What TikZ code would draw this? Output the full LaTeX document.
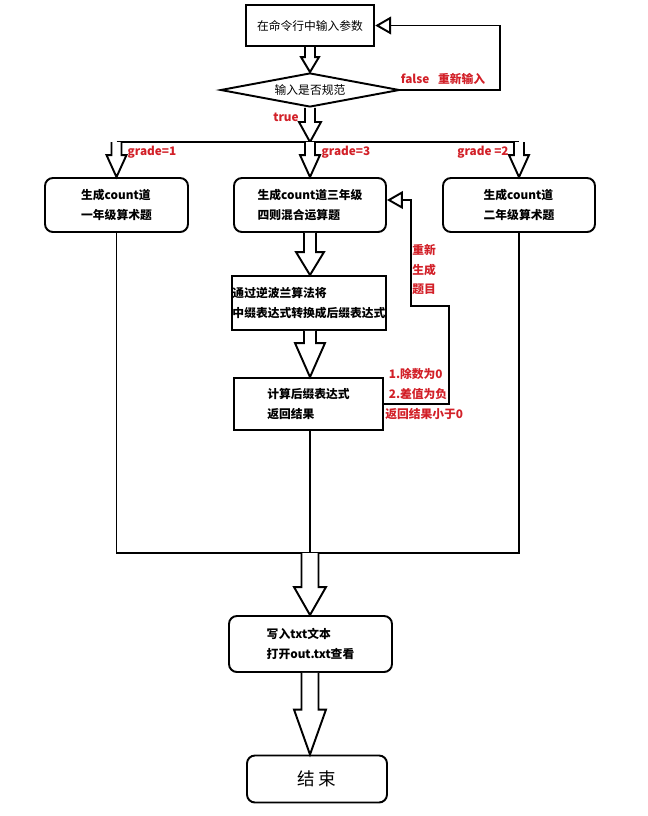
\documentclass[tikz,border=0pt]{standalone}
\usepackage{fontspec}
\setmainfont{Noto Sans CJK SC}
\usepackage{tikz}
\usetikzlibrary{shapes.geometric, positioning, calc, arrows.meta}
\definecolor{lblred}{RGB}{210,32,40}
\tikzset{plainbox/.style = {draw=black, line width=1.1pt, inner sep=0pt, align=left, font=\fontsize{6.7}{11.5}\selectfont}}
\tikzset{boldbox/.style = {plainbox, font=\fontsize{6.7}{11.5}\selectfont\bfseries}}
\tikzset{roundbox/.style = {boldbox, rounded corners=4.5pt}}
\tikzset{decision/.style = {plainbox, diamond, aspect=5}}
\tikzset{fat/.style = {draw=black, line width=1.1pt, fill=white, line join=miter}}
\tikzset{back/.style = {line width=1.1pt, -{Triangle[open,length=9pt,width=10pt]}}}
\tikzset{lbl/.style = {text=lblred, inner sep=0pt, align=left, font=\fontsize{6.7}{11.2}\selectfont\bfseries}}
% hollow block arrow: from, to, shaft half width, head half width, head length
\newcommand{\fatarrow}[5]{\draw[fat] ($(#1)+(-#3,0)$) -- ($(#2)+(-#3,-#5)$) -- ($(#2)+(-#4,-#5)$) -- (#2) -- ($(#2)+(#4,-#5)$) -- ($(#2)+(#3,-#5)$) -- ($(#1)+(#3,0)$);}
\begin{document}
\begin{tikzpicture}[x=0.02cm,y=-0.02cm]
\useasboundingbox (0,0) rectangle (648,816);

\node[plainbox, minimum width=2.56cm, minimum height=0.82cm, line width=1.4pt] (input) at (310,25.5) {在命令行中输入参数};
\node[decision, minimum width=3.58cm, minimum height=0.68cm] (check) at (310,90) {输入是否规范};

\node[roundbox, minimum width=2.86cm, minimum height=1.08cm] (gone) at (116.5,205) {生成count道\\一年级算术题};
\node[roundbox, minimum width=3.04cm, minimum height=1.08cm] (gthree) at (310,205) {生成count道三年级\\四则混合运算题};
\node[roundbox, minimum width=3.04cm, minimum height=1.08cm] (gtwo) at (519,205) {生成count道\\二年级算术题};

\node[boldbox, minimum width=3.08cm, minimum height=1.08cm] (rpn) at (309,303) {通过逆波兰算法将\\中缀表达式转换成后缀表达式};
\node[boldbox, minimum width=2.98cm, minimum height=1.04cm] (calc) at (308.5,404) {计算后缀表达式\\返回结果};

\node[roundbox, minimum width=3.26cm, minimum height=1.12cm] (write) at (310.5,644) {写入txt文本\\打开out.txt查看};
\node[roundbox, minimum width=2.8cm, minimum height=0.94cm, font=\fontsize{10}{12}\selectfont] (end) at (317,779) {结\,束};

% labels
\node[lbl] (lfalse) at (443,79) {false\hspace{5pt}重新输入};
\node[lbl] (ltrue) at (286,117) {true};
\node[lbl] (lone) at (152,152) {grade=1};
\node[lbl] (lthree) at (346,152) {grade=3};
\node[lbl] (ltwo) at (483,152) {grade =2};
\node[lbl, anchor=north west] (lredo) at (412,244) {重新\\生成\\题目};
\node[lbl, anchor=west] (lerr) at (385,394) {\hspace{2pt}1.除数为0\\\hspace{2pt}2.差值为负\\返回结果小于0};

% coordinates
\coordinate (bar) at (310,142);
\coordinate (join) at (310,553);

% connectors
\fatarrow{input.south}{input.south |- check.north}{5}{9}{15}
\draw[back] (check.east) -- ++(100,0) |- (input.east);
\fatarrow{check.south}{bar}{5}{11}{20}
\draw[line width=1.1pt] (gone.north |- bar) -- (gtwo.north |- bar);
\fatarrow{gone.north |- bar}{gone.north}{5}{10}{22}
\fatarrow{bar}{gthree.north}{5}{10}{22}
\fatarrow{gtwo.north |- bar}{gtwo.north}{5}{10}{22}
\fatarrow{gthree.south}{gthree.south |- rpn.north}{6}{14}{23}
\fatarrow{gthree.south |- rpn.south}{gthree.south |- calc.north}{6}{15}{34}
\draw[back] (calc.east) -- ++(65,0) -- ++(0,-98) -- ++(-38,0) |- ($(gthree.east)+(0,-5)$);

\draw[line width=1.1pt] (gone.south) -- (gone.south |- join) -- (gtwo.south |- join) -- (gtwo.south);
\draw[line width=1.1pt] (gthree.south |- calc.south) -- (join);
\fatarrow{join}{join |- write.north}{8.5}{16}{28}
\fatarrow{join |- write.south}{join |- end.north}{8.5}{16}{45}
\end{tikzpicture}
\end{document}
